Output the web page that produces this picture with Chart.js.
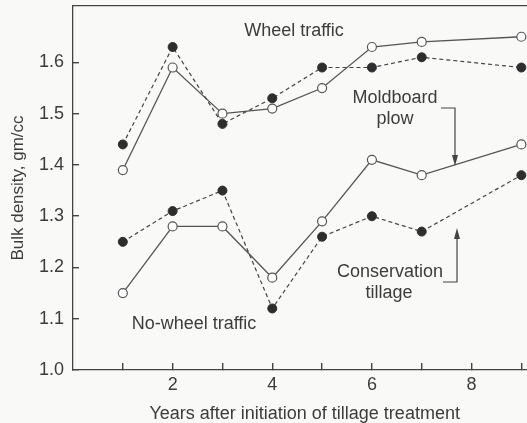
<!DOCTYPE html>
<html lang="en">
  <head>
    <meta charset="UTF-8" />
    <title>Bulk density</title>
    <script src="https://cdn.jsdelivr.net/npm/chart.js@4.4.1/dist/chart.umd.min.js"></script>
    <style>
      html,
      body {
        margin: 0;
        padding: 0;
        overflow: hidden;
        background: #f9f9f8;
      }
      #bulkChart {
        display: block;
      }
    </style>
  </head>
  <body>
    <canvas id="bulkChart" width="542" height="423"></canvas>

    <script>
      // years after initiation (no sample in year 8)
      const years = [1, 2, 3, 4, 5, 6, 7, 9];

      // wheel traffic
      const wheelConservation = [1.44, 1.63, 1.48, 1.53, 1.59, 1.59, 1.61, 1.59];
      const wheelMoldboard = [1.39, 1.59, 1.5, 1.51, 1.55, 1.63, 1.64, 1.65];

      // no-wheel traffic
      const noWheelConservation = [1.25, 1.31, 1.35, 1.12, 1.26, 1.3, 1.27, 1.38];
      const noWheelMoldboard = [1.15, 1.28, 1.28, 1.18, 1.29, 1.41, 1.38, 1.44];

      const xTicks = [1, 2, 3, 4, 5, 6, 7, 8, 9];
      const xLabels = [2, 4, 6, 8];
      const yTicks = [1.0, 1.1, 1.2, 1.3, 1.4, 1.5, 1.6];

      const ink = "#3c3c3c";
      const frame = "#444";
      const font = "'Liberation Sans', Arial, sans-serif";

      function pts(vals) {
        return years.map((x, i) => ({ x: x, y: vals[i] }));
      }

      function filledSet(vals) {
        return {
          data: pts(vals),
          showLine: true,
          borderColor: "#444",
          borderWidth: 1.2,
          borderDash: [4, 3],
          pointRadius: 4.5,
          pointBackgroundColor: "#2e2e2e",
          pointBorderColor: "#2e2e2e",
          pointBorderWidth: 1,
        };
      }

      function openSet(vals) {
        return {
          data: pts(vals),
          showLine: true,
          borderColor: "#555",
          borderWidth: 1.3,
          pointRadius: 4.5,
          pointBackgroundColor: "#fdfdfd",
          pointBorderColor: "#555",
          pointBorderWidth: 1.2,
        };
      }

      // inward tick marks: negative tick length, no grid in the plot
      const tickGrid = (len) => ({
        display: true,
        drawOnChartArea: false,
        drawTicks: true,
        tickLength: len,
        color: frame,
        lineWidth: 1.4,
      });

      // annotation labels and arrows
      const notes = {
        id: "notes",
        afterDraw(chart) {
          const ctx = chart.ctx;
          ctx.save();
          ctx.strokeStyle = frame;
          ctx.lineWidth = 1.2;
          ctx.beginPath();
          ctx.moveTo(441, 108);
          ctx.lineTo(455, 108);
          ctx.lineTo(455, 158);
          ctx.moveTo(443, 282);
          ctx.lineTo(457, 282);
          ctx.lineTo(457, 236);
          ctx.stroke();
          ctx.fillStyle = frame;
          ctx.beginPath();
          ctx.moveTo(452, 155);
          ctx.lineTo(458, 155);
          ctx.lineTo(455, 166);
          ctx.closePath();
          ctx.fill();
          ctx.beginPath();
          ctx.moveTo(454, 239);
          ctx.lineTo(460, 239);
          ctx.lineTo(457, 228);
          ctx.closePath();
          ctx.fill();

          ctx.fillStyle = ink;
          ctx.font = "18px " + font;
          ctx.textAlign = "center";
          ctx.textBaseline = "middle";
          ctx.fillText("Wheel traffic", 294, 31);
          ctx.fillText("Moldboard", 395, 98);
          ctx.fillText("plow", 395, 119);
          ctx.fillText("Conservation", 390, 272);
          ctx.fillText("tillage", 389, 293);
          ctx.fillText("No-wheel traffic", 194, 324);
          ctx.restore();
        },
      };

      new Chart(document.getElementById("bulkChart"), {
        type: "scatter",
        data: {
          datasets: [
            filledSet(wheelConservation),
            openSet(wheelMoldboard),
            filledSet(noWheelConservation),
            openSet(noWheelMoldboard),
          ],
        },
        options: {
          responsive: false,
          animation: false,
          layout: { padding: 0 },
          plugins: {
            legend: { display: false },
            tooltip: { enabled: false },
          },
          scales: {
            x: {
              type: "linear",
              min: 0,
              max: 9.3,
              afterBuildTicks: (s) => {
                s.ticks = xTicks.map((v) => ({ value: v }));
              },
              afterFit: (s) => {
                s.height = 53;
                s.paddingLeft = 0;
                s.paddingRight = 0;
              },
              grid: tickGrid(-7),
              border: { display: true, color: frame, width: 1.3 },
              ticks: {
                color: ink,
                font: { family: font, size: 18 },
                padding: 11,
                maxRotation: 0,
                autoSkip: false,
                callback: (v) => (xLabels.includes(v) ? String(v) : ""),
              },
              title: {
                display: true,
                text: "Years after initiation of tillage treatment",
                color: ink,
                font: { family: font, size: 18 },
                padding: { top: 0, bottom: -2 },
              },
            },
            // top frame line only
            top: {
              type: "linear",
              position: "top",
              min: 0,
              max: 9.3,
              afterFit: (s) => {
                s.height = 6;
                s.paddingLeft = 0;
                s.paddingRight = 0;
              },
              grid: { display: false },
              ticks: { display: false },
              border: { display: true, color: frame, width: 1.3 },
            },
            y: {
              type: "linear",
              min: 1.0,
              max: 1.71,
              afterBuildTicks: (s) => {
                s.ticks = yTicks.map((v) => ({ value: v }));
              },
              afterFit: (s) => {
                s.width = 73;
                s.paddingTop = 0;
                s.paddingBottom = 0;
              },
              grid: tickGrid(-6),
              border: { display: true, color: frame, width: 1.3 },
              ticks: {
                color: ink,
                font: { family: font, size: 18 },
                padding: 15,
                callback: (v) => v.toFixed(1),
              },
              title: {
                display: true,
                text: "Bulk density, gm/cc",
                color: ink,
                font: { family: font, size: 17 },
                padding: { top: 8, bottom: 0 },
              },
            },
          },
        },
        plugins: [notes],
      });
    </script>
  </body>
</html>
